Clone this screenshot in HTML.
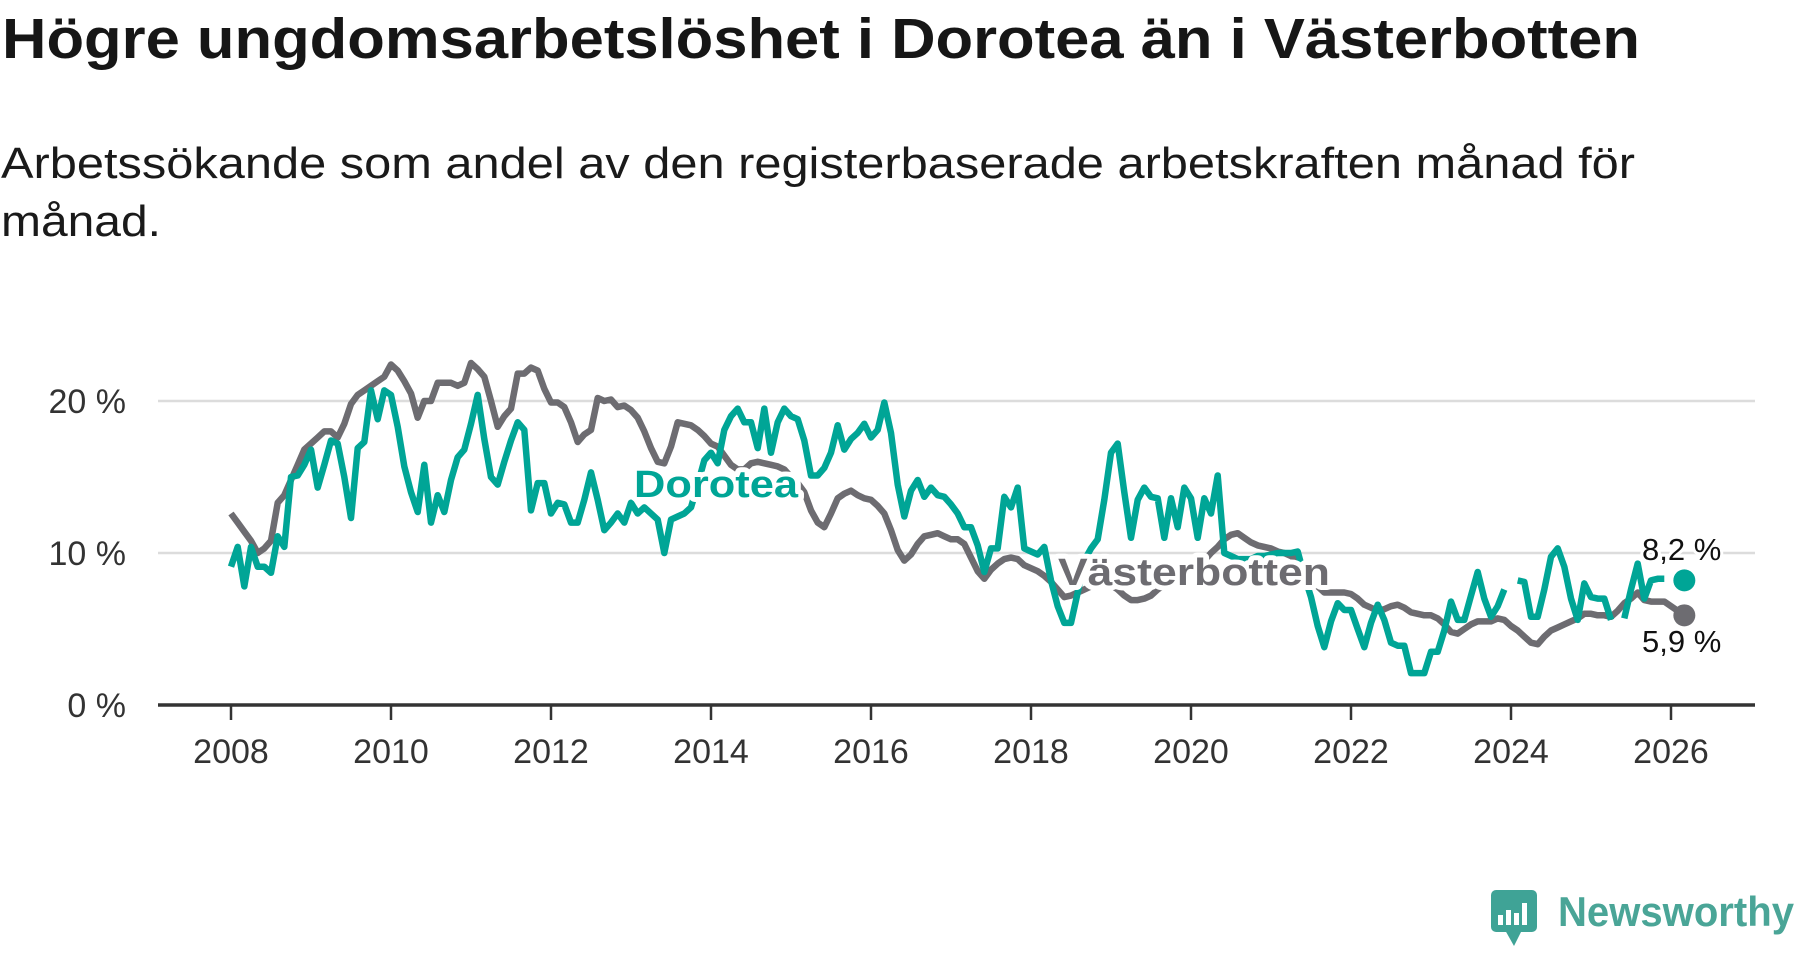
<!DOCTYPE html>
<html lang="sv">
<head>
<meta charset="utf-8">
<style>
  html,body{margin:0;padding:0;background:#fff;}
  body{width:1800px;height:948px;overflow:hidden;font-family:"Liberation Sans",sans-serif;}
  svg text{font-family:"Liberation Sans",sans-serif;}
</style>
</head>
<body>
<svg id="chart" width="1800" height="948" viewBox="0 0 1800 948" xmlns="http://www.w3.org/2000/svg">
  <text x="2" y="58" font-size="57" font-weight="bold" fill="#161616" textLength="1638" lengthAdjust="spacingAndGlyphs">Högre ungdomsarbetslöshet i Dorotea än i Västerbotten</text>
  <text x="1" y="178" font-size="44" fill="#1a1a1a" textLength="1634" lengthAdjust="spacingAndGlyphs">Arbetssökande som andel av den registerbaserade arbetskraften månad för</text>
  <text x="1" y="236" font-size="44" fill="#1a1a1a" textLength="160" lengthAdjust="spacingAndGlyphs">månad.</text>
  <g id="grid"></g>
  <g id="yticks"></g>
  <g id="xticks"></g>
  <g id="series"></g>
  <g id="labels"></g>
  <g>
    <rect x="1491" y="890" width="46" height="42" rx="5" fill="#3fa396"/>
    <polygon points="1505,930 1522,930 1514,946" fill="#3fa396"/>
    <rect x="1498" y="915" width="5" height="10" fill="#fff"/>
    <rect x="1506" y="910" width="5" height="15" fill="#fff"/>
    <rect x="1514" y="913" width="5" height="12" fill="#fff"/>
    <rect x="1522" y="903" width="5" height="22" fill="#fff"/>
    <text x="1558" y="926" font-size="42" font-weight="bold" fill="#4aa597" textLength="236" lengthAdjust="spacingAndGlyphs">Newsworthy</text>
  </g>
</svg>
<script>
const startYear = 2008;
const yTicks = [0, 10, 20];
const yTickLabels = ["0 %", "10 %", "20 %"];
const xTicks = [2008, 2010, 2012, 2014, 2016, 2018, 2020, 2022, 2024, 2026];
const seriesNames = ["Dorotea", "Västerbotten"];
const vasterbotten = [
12.6,12.0,11.4,10.8,10.0,10.3,10.8,13.3,13.8,14.8,15.8,16.8,
17.2,17.6,18.0,18.0,17.6,18.5,19.8,20.4,20.7,21.0,21.3,21.6,
22.4,22.0,21.3,20.5,18.9,20.0,20.0,21.2,21.2,21.2,21.0,21.2,
22.5,22.1,21.6,20.0,18.3,19.0,19.5,21.8,21.8,22.2,22.0,20.8,
19.9,19.9,19.6,18.6,17.3,17.8,18.1,20.2,20.0,20.1,19.6,19.7,
19.4,18.9,18.0,16.9,16.0,15.9,17.0,18.6,18.5,18.4,18.1,17.7,
17.2,17.0,16.4,15.8,15.5,15.5,15.9,16.0,15.9,15.8,15.7,15.5,
15.0,14.6,14.0,12.8,12.0,11.7,12.6,13.6,13.9,14.1,13.8,13.6,
13.5,13.1,12.6,11.5,10.2,9.5,9.9,10.6,11.1,11.2,11.3,11.1,
10.9,10.9,10.6,9.7,8.8,8.3,8.9,9.3,9.6,9.7,9.6,9.2,
9.0,8.8,8.5,8.1,7.6,7.1,7.2,7.4,7.6,7.8,8.0,8.0,
7.9,7.6,7.2,6.9,6.9,7.0,7.2,7.6,7.9,8.2,8.4,8.6,
8.8,9.1,9.5,10.0,10.4,10.9,11.2,11.3,11.0,10.7,10.5,10.4,
10.3,10.1,10.0,9.8,9.5,9.0,8.4,7.8,7.4,7.4,7.4,7.4,
7.3,7.0,6.6,6.4,6.2,6.3,6.5,6.6,6.4,6.1,6.0,5.9,
5.9,5.7,5.3,4.8,4.7,5.0,5.3,5.5,5.5,5.5,5.7,5.6,
5.2,4.9,4.5,4.1,4.0,4.5,4.9,5.1,5.3,5.5,5.7,6.0,
6.0,5.9,5.9,5.8,6.2,6.7,7.0,7.4,6.9,6.8,6.8,6.8,
6.5,6.2,5.9];
const dorotea = [
9.1,10.4,7.8,10.4,9.1,9.1,8.7,11.1,10.4,15.0,15.1,15.8,
16.8,14.3,15.8,17.4,17.2,15.0,12.3,16.9,17.3,20.7,18.8,20.7,
20.4,18.3,15.7,14.0,12.7,15.8,12.0,13.8,12.7,14.8,16.3,16.8,
18.5,20.4,17.5,15.0,14.5,16.0,17.4,18.6,18.1,12.8,14.6,14.6,
12.6,13.3,13.2,12.0,12.0,13.5,15.3,13.5,11.5,12.0,12.6,12.0,
13.3,12.6,13.0,12.6,12.2,10.0,12.2,12.4,12.6,13.0,14.5,16.1,
16.6,15.9,18.1,19.0,19.5,18.6,18.6,16.9,19.5,16.6,18.6,19.5,
19.0,18.8,17.4,15.1,15.1,15.6,16.6,18.4,16.8,17.5,17.9,18.5,
17.6,18.1,19.9,17.9,14.5,12.4,14.1,14.8,13.7,14.3,13.8,13.7,
13.2,12.6,11.7,11.7,10.5,8.75,10.3,10.3,13.7,13.0,14.3,10.3,
10.1,9.9,10.4,8.2,6.5,5.4,5.4,7.4,9.5,10.3,10.9,13.5,
16.6,17.2,14.0,11.0,13.5,14.3,13.7,13.6,11.0,13.6,11.7,14.3,
13.6,11.0,13.6,12.6,15.1,10.0,9.8,9.6,9.6,9.6,9.8,9.8,
9.9,10.0,10.0,10.0,10.1,8.5,7.1,5.2,3.8,5.5,6.7,6.25,
6.25,5.0,3.8,5.4,6.6,5.6,4.1,3.9,3.9,2.1,2.1,2.1,
3.5,3.5,4.9,6.8,5.6,5.6,7.2,8.75,7.0,5.8,6.5,7.6,
null,8.2,8.1,5.8,5.8,7.6,9.75,10.3,9.1,7.0,5.6,8.0,
7.1,7.0,7.0,5.6,null,5.7,7.6,9.3,7.0,8.2,8.3,8.3,
null,null,8.2];
const endLabels = ["8,2 %", "5,9 %"];

const NS = "http://www.w3.org/2000/svg";
const X0 = 231, PX_PER_YEAR = 80, Y0 = 705, PX_PER_PCT = 15.2;
const plotLeft = 158, plotRight = 1755;
function xScale(year){ return X0 + (year - startYear) * PX_PER_YEAR; }
function xIdx(i){ return xScale(startYear + i / 12); }
function yScale(v){ return Y0 - v * PX_PER_PCT; }
function mk(tag, parent, attrs){
  const el = document.createElementNS(NS, tag);
  for (const k in attrs) el.setAttribute(k, attrs[k]);
  parent.appendChild(el);
  return el;
}
const grid = document.getElementById('grid');
const yt = document.getElementById('yticks');
yTicks.forEach((t, k) => {
  if (t !== 0) {
    const gl = mk('line', grid, {x1: plotLeft, x2: plotRight, y1: yScale(t), y2: yScale(t), stroke: '#dcdcdc', 'stroke-width': 2.5});
    
    
  }
  const lb = mk('text', yt, {x: 126, y: yScale(t) + 12, 'font-size': 34, fill: '#333', 'text-anchor': 'end'});
  lb.textContent = yTickLabels[k];
  
  
});
const xt = document.getElementById('xticks');
const axis = mk('line', xt, {x1: plotLeft, x2: plotRight, y1: Y0, y2: Y0, stroke: '#333', 'stroke-width': 3.5});


xTicks.forEach(yr => {
  const tk = mk('line', xt, {x1: xScale(yr), x2: xScale(yr), y1: Y0, y2: Y0 + 15, stroke: '#333', 'stroke-width': 2.5});
  
  
  const lb = mk('text', xt, {x: xScale(yr), y: 763, 'font-size': 34, fill: '#333', 'text-anchor': 'middle'});
  lb.textContent = String(yr);
  
  
});
function pathFor(arr){
  let d = '', pen = false;
  arr.forEach((v, i) => {
    if (v === null || v === undefined) { pen = false; return; }
    d += (pen ? 'L' : 'M') + xIdx(i).toFixed(1) + ',' + yScale(v).toFixed(1);
    pen = true;
  });
  return d;
}
function lastIdx(arr){ for (let i = arr.length - 1; i >= 0; i--) if (arr[i] !== null) return i; return 0; }
const sg = document.getElementById('series');
const gray = '#6d6c71', teal = '#00a596';
const pv = mk('path', sg, {d: pathFor(vasterbotten), fill: 'none', stroke: gray, 'stroke-width': 6.5, 'stroke-linejoin': 'round'});


const pd = mk('path', sg, {d: pathFor(dorotea), fill: 'none', stroke: teal, 'stroke-width': 6.5, 'stroke-linejoin': 'round'});


const lv = lastIdx(vasterbotten), ld = lastIdx(dorotea);
const dv = mk('circle', sg, {cx: xIdx(lv), cy: yScale(vasterbotten[lv]), r: 11, fill: gray});


const dd = mk('circle', sg, {cx: xIdx(ld), cy: yScale(dorotea[ld]), r: 11, fill: teal});



const lg = document.getElementById('labels');
const l1 = mk('text', lg, {x: 634, y: 497, 'font-size': 38, 'font-weight': 'bold', fill: teal, stroke: '#fff', 'stroke-width': 10, 'paint-order': 'stroke', 'stroke-linejoin': 'round', textLength: 164, lengthAdjust: 'spacingAndGlyphs'});
l1.textContent = seriesNames[0];


const l2 = mk('text', lg, {x: 1058, y: 585, 'font-size': 38, 'font-weight': 'bold', fill: gray, stroke: '#fff', 'stroke-width': 10, 'paint-order': 'stroke', 'stroke-linejoin': 'round', textLength: 272, lengthAdjust: 'spacingAndGlyphs'});
l2.textContent = seriesNames[1];


const e1 = mk('text', lg, {x: 1642, y: 560, 'font-size': 31, fill: '#111', stroke: '#fff', 'stroke-width': 6, 'paint-order': 'stroke'});
e1.textContent = endLabels[0];


const e2 = mk('text', lg, {x: 1642, y: 652, 'font-size': 31, fill: '#111', stroke: '#fff', 'stroke-width': 6, 'paint-order': 'stroke'});
e2.textContent = endLabels[1];


</script>
</body>
</html>
